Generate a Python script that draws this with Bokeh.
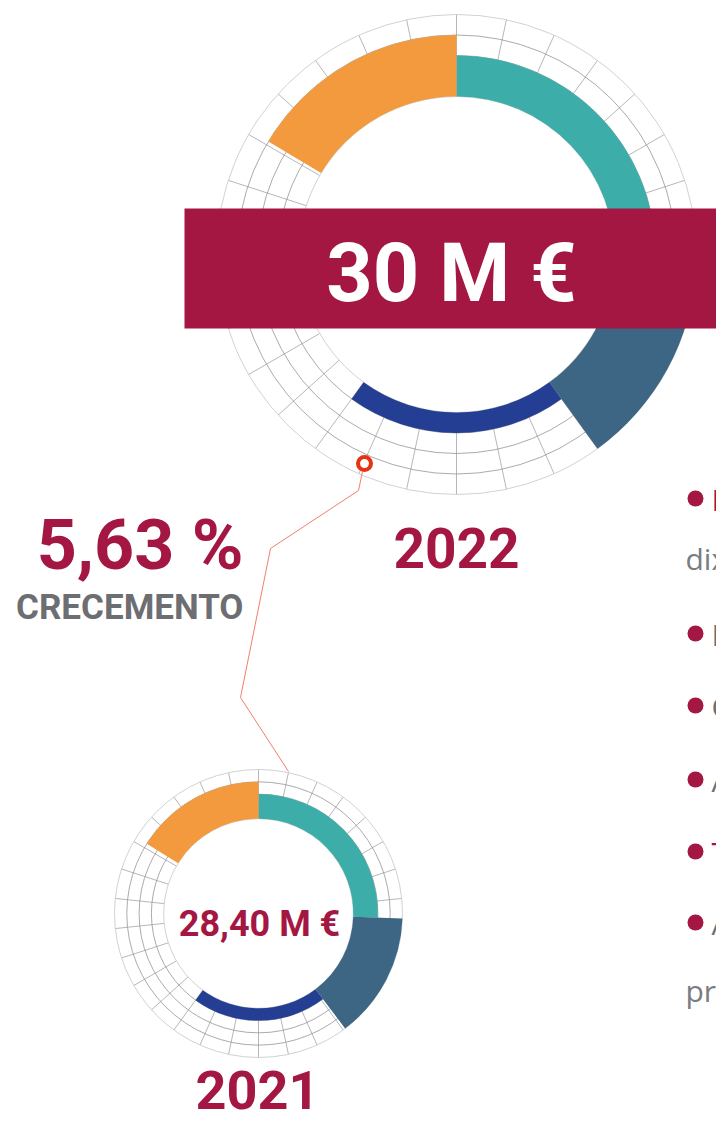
import numpy as np
from bokeh.plotting import figure
from bokeh.models import Range1d
from bokeh.core.properties import value
from bokeh.embed import file_html
from bokeh.resources import INLINE

# ---------------- data ----------------
years = ["2022", "2021"]
total_labels = ["30 M €", "28,40 M €"]
growth_label = "5,63 %"
growth_caption = "CRECEMENTO"

segments = ["Segmento 1", "Segmento 2", "Segmento 3", "Segmento 4"]
seg_colors = ["#3CADA8", "#3D6584", "#233E92", "#F39A3E"]
seg_level = [2, 4, 1, 3]                       # ring band reached (1..4)
start_deg_2022 = [0, 93, 144, 301]             # clockwise from top
end_deg_2022 = [93, 144, 216, 360]
start_deg_2021 = [0, 92, 143, 302]
end_deg_2021 = [92, 143, 216, 360]

grid_step_deg = 12
n_bands = 4

bullet_letters = ["I", "I", "C", "A", "T", "A"]
bullet_colors = ["#A31742", "#6D6E71", "#6D6E71", "#6D6E71", "#A31742", "#6D6E71"]
cont_texts = ["dix", "pr"]

# ---------------- layout ----------------
W, H = 716, 1124


def Y(py):
    return H - py


CRIMSON = "#A31742"
GREY = "#6D6E71"
RED = "#E63312"

p = figure(width=W, height=H, x_range=Range1d(0, W), y_range=Range1d(0, H),
           output_backend="svg", toolbar_location=None, min_border=0,
           x_axis_type=None, y_axis_type=None)
p.grid.visible = False
p.outline_line_color = None
p.background_fill_color = "white"
p.border_fill_color = "white"

ROBOTO = value("Roboto")
OPEN = value("Open Sans")


def label(x, baseline, txt, size, color, align, font=ROBOTO, bold=True, k=0.36):
    # shift compensates the renderer's baseline offset
    p.text(x=[x] if not isinstance(x, list) else x,
           y=[Y(b - k * size) for b in (baseline if isinstance(baseline, list) else [baseline])],
           text=txt if isinstance(txt, list) else [txt],
           text_font=font, text_font_style="bold" if bold else "normal",
           text_font_size=f"{size}px", text_color=color, text_align=align,
           text_baseline="alphabetic")


def draw_ring(cx, cy, scale, starts, ends):
    r_in = 158 * scale
    band = 20.5 * scale
    radii = [r_in + band * k for k in range(n_bands + 1)]
    ang = np.radians(np.arange(0, 360, grid_step_deg))
    p.segment(x0=cx + r_in * np.sin(ang), y0=cy + r_in * np.cos(ang),
              x1=cx + radii[-1] * np.sin(ang), y1=cy + radii[-1] * np.cos(ang),
              line_color="#9f9f9f", line_width=0.75)
    p.circle(x=[cx] * 3, y=[cy] * 3, radius=radii[1:4], fill_color=None,
             line_color="#8f8f8f", line_width=0.75)
    p.circle(x=[cx] * 2, y=[cy] * 2, radius=[radii[0], radii[-1]], fill_color=None,
             line_color="#cccccc", line_width=0.9)
    outer = [r_in + band * lv for lv in seg_level]
    p.annular_wedge(x=[cx] * len(segments), y=[cy] * len(segments),
                    inner_radius=r_in, outer_radius=outer,
                    start_angle=[np.radians(90 - s) for s in starts],
                    end_angle=[np.radians(90 - e) for e in ends],
                    direction="clock", fill_color=seg_colors, line_color=None)


draw_ring(456, Y(254), 1.0, start_deg_2022, end_deg_2022)
draw_ring(258, Y(913), 0.6, start_deg_2021, end_deg_2021)

# banner
p.quad(left=184, right=W + 20, top=Y(208), bottom=Y(328), fill_color=CRIMSON, line_color=None)

label(451, 302, total_labels[0], 81, "white", "center")
label(259, 936, total_labels[1], 36, CRIMSON, "center")
label(456, 567, years[0], 55, CRIMSON, "center")
label(257, 1109, years[1], 54, CRIMSON, "center")
label(243, 570, growth_label, 70, CRIMSON, "right")
label(243, 620, growth_caption, 35, GREY, "right")

# connector line + marker
conn_x = [362, 358, 270, 240, 288]
conn_y = [Y(v) for v in [471, 490, 548, 697, 771]]
p.line(conn_x, conn_y, line_color="#F07F6B", line_width=1)
p.scatter([364], [Y(463)], size=13, marker="circle", fill_color="white",
          line_color=RED, line_width=4)

# right-hand list (cut by the page edge, as in the original)
bullet_y = [498, 633, 705, 779, 851, 922]
p.scatter([695] * len(bullet_y), [Y(v) for v in bullet_y], size=16, marker="circle",
          fill_color=CRIMSON, line_color=None)
label([711] * len(bullet_y), [v + 10 for v in bullet_y], bullet_letters, 30,
      bullet_colors, "left", font=OPEN, bold=False, k=0.3)
label([685, 685], [567, 999], cont_texts, 30, "#7a7c7f", "left", font=OPEN, bold=False, k=0.3)

open("out.html", "w").write(file_html(p, INLINE))
